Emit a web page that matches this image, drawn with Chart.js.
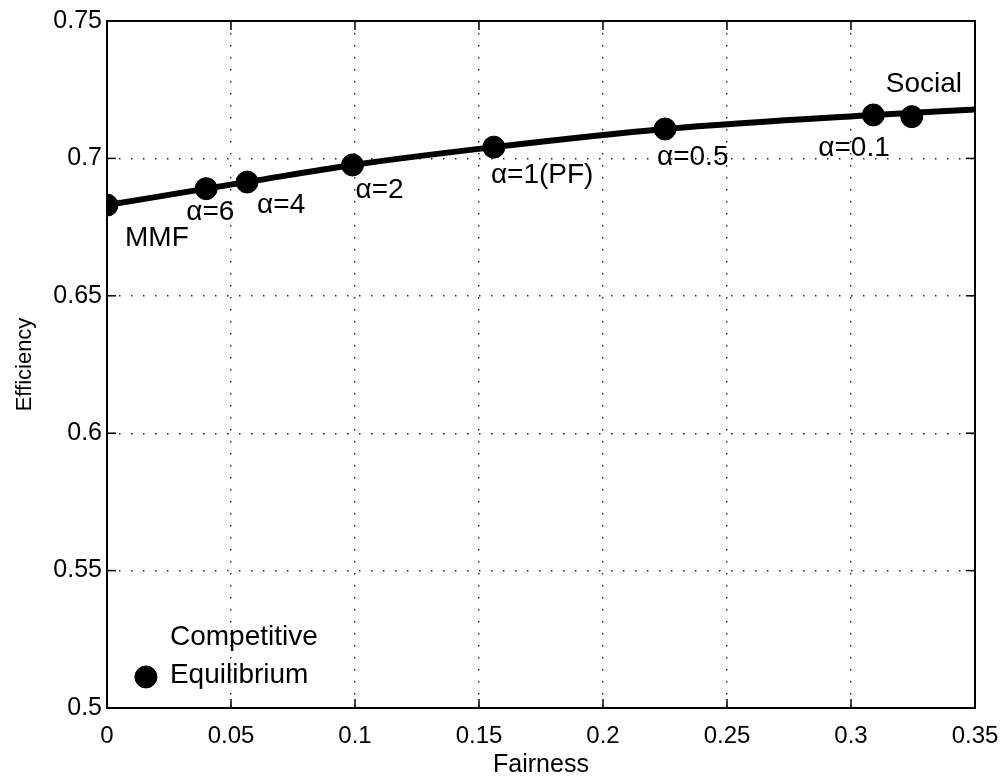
<!DOCTYPE html>
<html>
<head>
<meta charset="utf-8">
<script src="https://cdn.jsdelivr.net/npm/chart.js@4.4.1/dist/chart.umd.min.js"></script>
<style>
  html,body{margin:0;padding:0;background:#fff;}
  #wrap{width:1006px;height:784px;}
</style>
</head>
<body>
<div id="wrap"><canvas id="c" width="1006" height="784"></canvas></div>
<script>
// Data
const curveX = [0, 0.04, 0.0565, 0.099, 0.156, 0.225, 0.309, 0.35];
const curveY = [0.683, 0.689, 0.6914, 0.6976, 0.7041, 0.7107, 0.7158, 0.7178];

const pointNames = ['MMF', 'α=6', 'α=4', 'α=2', 'α=1(PF)', 'α=0.5', 'α=0.1', 'Social'];
const pointX = [0, 0.04, 0.0565, 0.099, 0.156, 0.225, 0.309, 0.3245];
const pointY = [0.683, 0.689, 0.6914, 0.6976, 0.7041, 0.7107, 0.7158, 0.7152];

const ceLabel = ['Competitive', 'Equilibrium'];
const ceX = [0.0157];
const ceY = [0.5113];

const xTicks = [0, 0.05, 0.1, 0.15, 0.2, 0.25, 0.3, 0.35];
const yTicks = [0.5, 0.55, 0.6, 0.65, 0.7, 0.75];

const FONT = '"Liberation Sans", Arial, Helvetica, sans-serif';

// label offsets in pixels from the marker (left edge, vertical middle)
const labelOffsets = [
  [18, 33], [-20, 24], [10, 23], [3, 25], [-3, 28], [-8, 28], [-55, 33], [-26, -32]
];

const frameAndLabels = {
  id: 'frameAndLabels',
  afterDraw(chart){
    const ctx = chart.ctx, a = chart.chartArea;
    const xs = chart.scales.x, ys = chart.scales.y;
    ctx.save();
    // box
    ctx.strokeStyle = '#000'; ctx.lineWidth = 2;
    ctx.strokeRect(a.left, a.top, a.right - a.left, a.bottom - a.top);
    // inward ticks on all sides
    ctx.lineWidth = 1.5;
    xTicks.forEach(v=>{
      const px = xs.getPixelForValue(v);
      ctx.beginPath(); ctx.moveTo(px, a.bottom); ctx.lineTo(px, a.bottom - 9); ctx.stroke();
      ctx.beginPath(); ctx.moveTo(px, a.top); ctx.lineTo(px, a.top + 9); ctx.stroke();
    });
    yTicks.forEach(v=>{
      const py = ys.getPixelForValue(v);
      ctx.beginPath(); ctx.moveTo(a.left, py); ctx.lineTo(a.left + 9, py); ctx.stroke();
      ctx.beginPath(); ctx.moveTo(a.right, py); ctx.lineTo(a.right - 9, py); ctx.stroke();
    });
    // annotations
    ctx.fillStyle = '#000';
    ctx.font = '28px ' + FONT;
    ctx.textBaseline = 'middle'; ctx.textAlign = 'left';
    pointNames.forEach((t,i)=>{
      const px = xs.getPixelForValue(pointX[i]), py = ys.getPixelForValue(pointY[i]);
      ctx.fillText(t, px + labelOffsets[i][0], py + labelOffsets[i][1]);
    });
    const cx = xs.getPixelForValue(ceX[0]), cy = ys.getPixelForValue(ceY[0]);
    ctx.fillText(ceLabel[0], cx + 24, cy - 40);
    ctx.fillText(ceLabel[1], cx + 24, cy - 2);
    ctx.restore();
  }
};

const gridOpts = { color: '#222', lineWidth: 1.4, drawTicks: false };
const borderOpts = { display: false, dash: [1.5, 10.5] };

new Chart(document.getElementById('c'), {
  type: 'scatter',
  data: {
    datasets: [
      {
        type: 'line',
        data: curveX.map((x,i)=>({x:x, y:curveY[i]})),
        borderColor: '#000', borderWidth: 6,
        pointRadius: 0, cubicInterpolationMode: 'monotone', fill: false
      },
      {
        data: pointX.map((x,i)=>({x:x, y:pointY[i]})),
        backgroundColor: '#000', borderColor: '#000', pointRadius: 11
      },
      {
        data: ceX.map((x,i)=>({x:x, y:ceY[i]})),
        backgroundColor: '#000', borderColor: '#000', pointRadius: 11
      }
    ]
  },
  options: {
    responsive: false,
    animation: false,
    events: [],
    layout: { padding: { left: 0, right: 31, top: 21, bottom: 0 } },
    plugins: { legend: { display: false }, tooltip: { enabled: false } },
    scales: {
      x: {
        type: 'linear', min: 0, max: 0.35,
        afterBuildTicks: s => { s.ticks = xTicks.map(v=>({value:v})); },
        afterFit: s => { s.height = 76; s.paddingLeft = 0; s.paddingRight = 0; },
        ticks: { color: '#000', font: { family: FONT, size: 24 }, padding: 14,
                 maxRotation: 0, callback: v => String(+v.toFixed(2)) },
        grid: gridOpts,
        border: borderOpts,
        title: { display: true, text: 'Fairness', color: '#000',
                 font: { family: FONT, size: 25 }, padding: { top: 0, bottom: 4 } }
      },
      y: {
        type: 'linear', min: 0.5, max: 0.75,
        afterBuildTicks: s => { s.ticks = yTicks.map(v=>({value:v})); },
        afterFit: s => { s.width = 107; s.paddingTop = 0; s.paddingBottom = 0; },
        ticks: { color: '#000', font: { family: FONT, size: 25 }, padding: 5,
                 callback: v => String(+v.toFixed(2)) },
        grid: gridOpts,
        border: borderOpts,
        title: { display: true, text: 'Efficiency', color: '#000',
                 font: { family: FONT, size: 22 }, padding: { top: 12, bottom: 0 } }
      }
    }
  },
  plugins: [frameAndLabels]
});
</script>
</body>
</html>
